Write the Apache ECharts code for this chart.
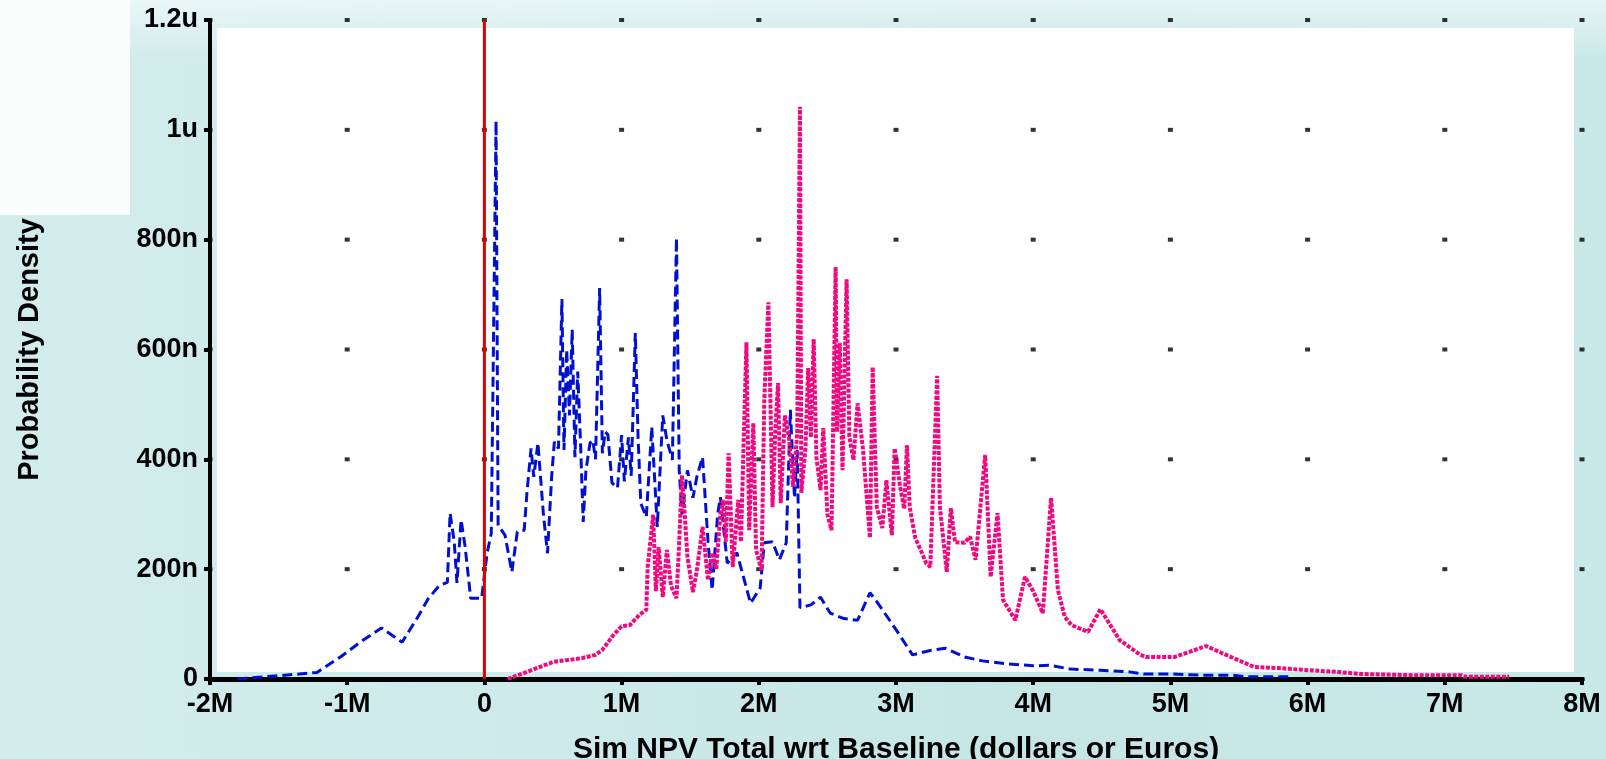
<!DOCTYPE html>
<html>
<head>
<meta charset="utf-8">
<script src="https://cdn.jsdelivr.net/npm/echarts@6/dist/echarts.min.js"></script>
<style>
  html, body { margin: 0; padding: 0; }
  body {
    width: 1606px; height: 759px; overflow: hidden; position: relative;
    background:
      linear-gradient(180deg, rgba(255,255,255,0.55) 0px, rgba(255,255,255,0) 60px),
      linear-gradient(90deg, #d2ecec 0px, #cfeaea 500px, #c6e6e6 1000px, #c9e8e8 1606px);
  }
  #corner { position: absolute; left: 0; top: 0; width: 130px; height: 215px; background: #fbfdfd; }
  #chart { position: absolute; left: 0; top: 0; width: 1606px; height: 759px; }
</style>
</head>
<body>
<div id="corner"></div>
<div id="chart"></div>
<script>
// x in millions, y in nano (1e-9)
var xTicks = [-2, -1, 0, 1, 2, 3, 4, 5, 6, 7, 8]
var xTickLabels = ['-2M', '-1M', '0', '1M', '2M', '3M', '4M', '5M', '6M', '7M', '8M']
var yTicks = [0, 200, 400, 600, 800, 1000, 1200]
var yTickLabels = ['0', '200n', '400n', '600n', '800n', '1u', '1.2u']

// baseline line at zero
var zeroLine = [[0, 0], [0, 1200]]

// blue dashed curve
var bluePoints = [
  [-1.80, 0], [-1.55, 5], [-1.40, 8], [-1.22, 12], [-1.05, 40], [-0.90, 68], [-0.75, 93], [-0.60, 67],
  [-0.48, 115], [-0.41, 146], [-0.33, 170], [-0.27, 176], [-0.25, 302], [-0.22, 250], [-0.20, 175],
  [-0.17, 290], [-0.14, 240], [-0.10, 147], [-0.02, 147], [0.02, 230], [0.05, 265], [0.085, 1016],
  [0.10, 280], [0.15, 262], [0.20, 195], [0.24, 268], [0.29, 271], [0.31, 339], [0.34, 420], [0.36, 368],
  [0.39, 430], [0.43, 300], [0.46, 229], [0.49, 368], [0.51, 432], [0.54, 420], [0.565, 692], [0.58, 417],
  [0.60, 600], [0.62, 480], [0.64, 636], [0.66, 404], [0.68, 560], [0.70, 435], [0.72, 286], [0.74, 380],
  [0.77, 430], [0.79, 435], [0.81, 400], [0.84, 712], [0.86, 411], [0.88, 450], [0.90, 445], [0.93, 357],
  [0.97, 348], [1.00, 444], [1.02, 360], [1.05, 440], [1.07, 370], [1.10, 630], [1.12, 441], [1.14, 320],
  [1.18, 295], [1.22, 459], [1.26, 277], [1.30, 480], [1.33, 435], [1.37, 399], [1.40, 803], [1.42, 380],
  [1.44, 300], [1.48, 380], [1.52, 330], [1.55, 370], [1.59, 404], [1.63, 250], [1.66, 162], [1.70, 300],
  [1.72, 331], [1.77, 211], [1.84, 230], [1.94, 138], [2.01, 166], [2.04, 248], [2.10, 250], [2.15, 217],
  [2.20, 248], [2.23, 490], [2.26, 330], [2.28, 417], [2.30, 130], [2.38, 135], [2.45, 149], [2.52, 120],
  [2.62, 110], [2.72, 107], [2.81, 157], [2.86, 141], [3.00, 90], [3.12, 44], [3.25, 52], [3.36, 56],
  [3.50, 40], [3.63, 33], [3.80, 28], [4.00, 24], [4.12, 25], [4.27, 18], [4.49, 16], [4.70, 13],
  [4.81, 9], [5.01, 9], [5.23, 7], [5.45, 7], [5.56, 4], [5.86, 4]
]

// magenta dotted curve
var pinkPoints = [
  [0.17, 0], [0.31, 13], [0.50, 31], [0.71, 38], [0.81, 44], [0.86, 53], [0.94, 80], [1.00, 96],
  [1.06, 98], [1.13, 117], [1.18, 126], [1.19, 204], [1.23, 299], [1.25, 160], [1.27, 240], [1.30, 149],
  [1.33, 235], [1.36, 170], [1.40, 147], [1.42, 250], [1.44, 371], [1.46, 300], [1.48, 222], [1.52, 158],
  [1.55, 200], [1.59, 277], [1.63, 180], [1.66, 230], [1.69, 200], [1.72, 300], [1.74, 326], [1.76, 250],
  [1.78, 411], [1.81, 204], [1.85, 326], [1.87, 250], [1.89, 435], [1.91, 613], [1.93, 271], [1.96, 466],
  [1.98, 235], [2.02, 198], [2.04, 508], [2.07, 686], [2.10, 313], [2.12, 450], [2.14, 539], [2.16, 320],
  [2.19, 480], [2.22, 440], [2.25, 350], [2.28, 448], [2.30, 1042], [2.31, 339], [2.34, 420], [2.36, 566],
  [2.38, 440], [2.40, 619], [2.42, 404], [2.45, 344], [2.47, 457], [2.50, 300], [2.53, 271], [2.56, 750],
  [2.57, 450], [2.59, 612], [2.61, 380], [2.64, 728], [2.66, 441], [2.69, 399], [2.72, 502], [2.76, 417],
  [2.81, 257], [2.83, 568], [2.86, 313], [2.90, 275], [2.93, 362], [2.97, 262], [2.99, 420], [3.03, 350],
  [3.06, 310], [3.08, 426], [3.10, 313], [3.14, 257], [3.19, 229], [3.22, 211], [3.25, 204], [3.30, 552],
  [3.32, 313], [3.37, 195], [3.40, 311], [3.43, 249], [3.50, 248], [3.54, 259], [3.58, 217], [3.65, 408],
  [3.69, 186], [3.74, 302], [3.78, 144], [3.87, 107], [3.94, 186], [4.00, 160], [4.07, 120], [4.13, 330],
  [4.18, 162], [4.23, 113], [4.28, 98], [4.40, 86], [4.49, 127], [4.63, 71], [4.78, 44], [4.82, 40],
  [5.03, 40], [5.26, 60], [5.46, 38], [5.61, 22], [5.78, 20], [6.01, 16], [6.21, 13], [6.40, 9],
  [6.76, 7], [7.12, 7], [7.15, 4], [7.47, 4]
]

// grid dots at every tick crossing
var gridDots = []
xTicks.forEach(function (x) {
  yTicks.forEach(function (y) { gridDots.push([x, y]) })
})

var labelFont = {
  color: '#000',
  fontFamily: 'Liberation Sans, Arial, sans-serif',
  fontWeight: 'bold'
}

var myChart = echarts.init(document.getElementById('chart'))
var option = {
  animation: false,
  backgroundColor: 'transparent',
  grid: [
    { left: 210, right: 24, top: 20, bottom: 80, show: false, outerBoundsMode: 'none' },
    { left: 217, right: 32, top: 28, bottom: 87, show: true, backgroundColor: '#fff', borderWidth: 0, z: 0, outerBoundsMode: 'none' }
  ],
  xAxis: [
    {
      type: 'value', gridIndex: 0, min: -2, max: 8, interval: 1, z: 5,
      name: 'Sim NPV Total wrt Baseline (dollars or Euros)',
      nameLocation: 'middle', nameGap: 56,
      nameTextStyle: Object.assign({ fontSize: 30 }, labelFont),
      axisLine: { onZero: false, lineStyle: { color: '#000', width: 5 } },
      axisTick: { length: 6, lineStyle: { color: '#000', width: 4 } },
      axisLabel: Object.assign({
        fontSize: 27, margin: 12,
        formatter: function (v) { return xTickLabels[xTicks.indexOf(v)] }
      }, labelFont),
      splitLine: { show: false }
    },
    { type: 'value', gridIndex: 1, show: false }
  ],
  yAxis: [
    {
      type: 'value', gridIndex: 0, min: 0, max: 1200, interval: 200, z: 5,
      name: 'Probability Density',
      nameLocation: 'middle', nameGap: 166,
      nameTextStyle: Object.assign({ fontSize: 29 }, labelFont),
      axisLine: { onZero: false, lineStyle: { color: '#000', width: 4 } },
      axisTick: { length: 6, lineStyle: { color: '#000', width: 4 } },
      axisLabel: Object.assign({
        fontSize: 27, margin: 12,
        formatter: function (v) { return yTickLabels[yTicks.indexOf(v)] }
      }, labelFont),
      splitLine: { show: false }
    },
    { type: 'value', gridIndex: 1, show: false }
  ],
  series: [
    {
      type: 'scatter', name: 'dots', data: gridDots, z: 3,
      symbol: 'rect', symbolSize: [5, 4],
      itemStyle: { color: '#000' }, silent: true
    },
    {
      type: 'line', name: 'blue', data: bluePoints, z: 6,
      showSymbol: false, smooth: false,
      lineStyle: { color: '#0010d0', width: 3, type: [10, 5] }
    },
    {
      type: 'line', name: 'pink', data: pinkPoints, z: 7,
      showSymbol: false, smooth: false,
      lineStyle: { color: '#f00a80', width: 4, type: [4, 1.5] }
    },
    {
      type: 'line', name: 'zero', data: zeroLine, z: 8,
      showSymbol: false,
      itemStyle: { color: '#e00000' },
      lineStyle: { color: '#e00000', width: 3 }
    }
  ]
}
myChart.setOption(option)
window.onresize = function () {
  myChart.resize()
}
</script>
</body>
</html>
